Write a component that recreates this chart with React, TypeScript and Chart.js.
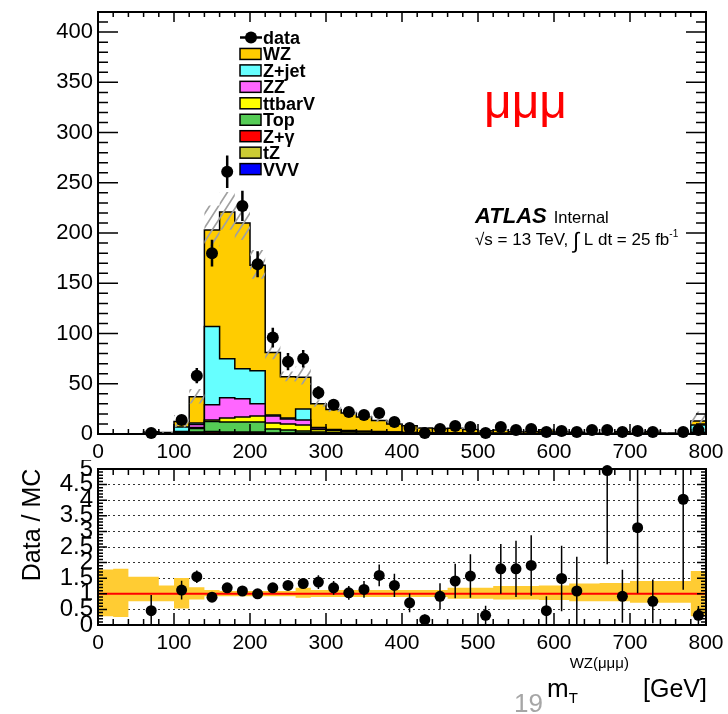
import React, { useEffect, useRef } from 'react';
import { Chart, registerables } from 'chart.js';

Chart.register(...registerables);

const FONT = '"Liberation Sans", Arial, Helvetica, sans-serif';

// ---------------- data ----------------
const X_MIN = 0;
const X_MAX = 800;

const binLow = [0, 20, 40, 60, 80, 100, 120, 140, 160, 180, 200, 220, 240, 260, 280, 300, 320, 340, 360, 380,
  400, 420, 440, 460, 480, 500, 520, 540, 560, 580, 600, 620, 640, 660, 680, 700, 720, 740, 760, 780];
const binCenter = [10, 30, 50, 70, 90, 110, 130, 150, 170, 190, 210, 230, 250, 270, 290, 310, 330, 350, 370, 390,
  410, 430, 450, 470, 490, 510, 530, 550, 570, 590, 610, 630, 650, 670, 690, 710, 730, 750, 770, 790];

// MC components (events per bin)
const VVV = [0, 0, 0, 0, 0, 0.05, 0.5, 0.5, 0.5, 0.5, 0.5, 0.3, 0.3, 0.3, 0.2, 0.2, 0.1, 0.1, 0.1, 0.1,
  0.1, 0.05, 0.05, 0.05, 0.05, 0.05, 0.05, 0.03, 0.03, 0.03, 0.03, 0.03, 0.02, 0.02, 0.02, 0.02, 0.02, 0.02, 0.01, 0.1];
const tZ = [0, 0, 0, 0, 0, 0.05, 0.5, 0.5, 0.5, 0.5, 0.5, 0.3, 0.3, 0.3, 0.2, 0.2, 0.1, 0.1, 0.1, 0.1,
  0.1, 0.05, 0.05, 0.05, 0.05, 0.05, 0.05, 0.03, 0.03, 0.03, 0.03, 0.03, 0.02, 0.02, 0.02, 0.02, 0.02, 0.02, 0.01, 0.1];
const Zgamma = [0, 0, 0, 0.1, 0, 0.3, 1, 1.5, 1, 1, 1, 0.4, 0.4, 0.4, 0.3, 0.2, 0.2, 0.1, 0.1, 0.1,
  0.1, 0.1, 0.1, 0.1, 0.05, 0.05, 0.05, 0.04, 0.04, 0.04, 0.04, 0.04, 0.02, 0.02, 0.02, 0.02, 0.02, 0.02, 0.01, 0.1];
const TopBkg = [0, 0, 0, 0.2, 0.1, 0.8, 3.5, 10, 10, 10, 10, 4, 3, 2, 1.3, 0.8, 0.6, 0.5, 0.4, 0.3,
  0.3, 0.2, 0.2, 0.2, 0.15, 0.1, 0.1, 0.1, 0.1, 0.1, 0.1, 0.1, 0.05, 0.05, 0.05, 0.05, 0.05, 0.05, 0.03, 0.3];
const ttbarV = [0, 0, 0, 0, 0, 0.3, 1, 1.5, 4, 5, 6, 6, 6, 6, 2.5, 2, 1.5, 1.2, 1, 0.8,
  0.6, 0.5, 0.4, 0.4, 0.3, 0.3, 0.3, 0.2, 0.2, 0.2, 0.15, 0.15, 0.1, 0.1, 0.1, 0.1, 0.1, 0.1, 0.05, 0.6];
const ZZ = [0, 0, 0, 0.3, 0.2, 1, 3, 15, 20, 18, 12, 7, 5, 5, 1.5, 0.8, 0.7, 0.6, 0.5, 0.4,
  0.3, 0.3, 0.2, 0.2, 0.2, 0.15, 0.15, 0.1, 0.1, 0.1, 0.1, 0.1, 0.05, 0.05, 0.05, 0.05, 0.05, 0.05, 0.04, 0.5];
const Zjet = [0, 0, 0, 0.6, 0.5, 4.5, 1.5, 78, 39, 30, 33, 1, 1, 11, 0.5, 0.3, 0.3, 0.2, 0.2, 0.2,
  0.1, 0.1, 0.1, 0.1, 0.1, 0.1, 0.1, 0.1, 0.1, 1.5, 0.05, 0.05, 0, 0, 0.5, 0, 0.8, 0, 0, 7.3];
const WZ = [0, 0, 0, 1.0, 0.7, 5.5, 26, 96, 146, 145, 105, 62, 41, 31.5, 23.5, 20, 17.5, 14.2, 11.1, 8.0,
  6.6, 4.7, 4.4, 4.6, 3.6, 2.4, 3.1, 1.6, 2.0, 2.3, 1.5, 1.3, 0.44, 0.56, 1.44, 0.74, 1.54, 0.74, 0.35, 4.0];

// data
const dataCounts = [null, null, null, 1, null, 14, 58, 180, 261, 227, 169, 96, 72, 75, 41, 29, 22, 19, 21, 12,
  6, 1, 5, 8, 7, 1, 7, 4, 5, 2, 3, 2, 4, 4, 2, 3, 2, null, 2, 4];
const dataErr = [null, null, null, 1, null, 3.7, 7.6, 13.4, 16.2, 15.1, 13, 9.8, 8.5, 8.7, 6.4, 5.4, 4.7, 4.4, 4.6, 3.5,
  2.4, 1, 2.2, 2.8, 2.6, 1, 2.6, 2, 2.2, 1.4, 1.7, 1.4, 2, 2, 1.4, 1.7, 1.4, null, 1.4, 2];

// ratio panel
const ratio = [null, null, null, 0.46, null, 1.12, 1.55, 0.89, 1.19, 1.09, 1.0, 1.19, 1.27, 1.33, 1.375, 1.19, 1.03, 1.14, 1.59, 1.27,
  0.71, 0.17, 0.92, 1.41, 1.57, 0.31, 1.80, 1.80, 1.91, 0.46, 1.49, 1.09, null, 4.95, 0.92, 3.12, 0.76, null, 4.03, 0.31];
const ratioErr = [null, null, null, 0.5, null, 0.3, 0.2, 0.07, 0.08, 0.08, 0.08, 0.12, 0.15, 0.16, 0.22, 0.22, 0.22, 0.27, 0.35, 0.37,
  0.3, 0.17, 0.42, 0.55, 0.7, 0.31, 0.8, 0.9, 0.97, 0.46, 1.05, 1.1, null, 3.0, 0.85, 2.1, 0.7, null, 2.9, 0.3];
const bandUp = [0.78, 0.80, 0.55, 0.55, 0.27, 0.51, 0.21, 0.12, 0.09, 0.09, 0.09, 0.09, 0.09, 0.19, 0.12, 0.12, 0.12, 0.12, 0.12, 0.12,
  0.12, 0.12, 0.12, 0.19, 0.19, 0.19, 0.25, 0.25, 0.25, 0.27, 0.27, 0.33, 0.33, 0.35, 0.35, 0.41, 0.41, 0.41, 0.41, 0.73];
const bandDn = [0.72, 0.74, 0.24, 0.24, 0.24, 0.47, 0.18, 0.08, 0.08, 0.08, 0.08, 0.08, 0.08, 0.13, 0.10, 0.10, 0.10, 0.10, 0.10, 0.10,
  0.10, 0.10, 0.10, 0.16, 0.16, 0.16, 0.18, 0.18, 0.18, 0.20, 0.20, 0.24, 0.24, 0.24, 0.24, 0.29, 0.29, 0.29, 0.29, 0.72];

const topYTicksMax = 420;
const ratioYMax = 5;

const legendLabels = ['data', 'WZ', 'Z+jet', 'ZZ', 'ttbarV', 'Top', 'Z+\u03b3', 'tZ', 'VVV'];
const legendColors = ['#000000', '#ffcc00', '#66ffff', '#ff66ff', '#ffff00', '#55cc55', '#ff0000', '#cccc33', '#0000ff'];

// stack from bottom to top
const stackOrder = [
  { label: 'VVV', vals: VVV, color: '#0000ff' },
  { label: 'tZ', vals: tZ, color: '#cccc33' },
  { label: 'Z+\u03b3', vals: Zgamma, color: '#ff0000' },
  { label: 'Top', vals: TopBkg, color: '#55cc55' },
  { label: 'ttbarV', vals: ttbarV, color: '#ffff00' },
  { label: 'ZZ', vals: ZZ, color: '#ff66ff' },
  { label: 'Z+jet', vals: Zjet, color: '#66ffff' },
  { label: 'WZ', vals: WZ, color: '#ffcc00' },
];

// ---------------- helpers ----------------
function steps(vals: number[]) {
  const pts: any[] = binLow.map((x, i) => ({ x, y: vals[i] }));
  pts.push({ x: X_MAX, y: vals[vals.length - 1] });
  return pts;
}

function errSegments(vals: (number | null)[], errs: (number | null)[]) {
  const pts: any[] = [];
  binCenter.forEach((x, i) => {
    const v = vals[i];
    const e = errs[i];
    if (v == null || e == null) return;
    pts.push({ x, y: v - e }, { x, y: v + e }, { x, y: null });
  });
  return pts;
}

function pointsOf(vals: (number | null)[]) {
  return binCenter.map((x, i) => ({ x, y: vals[i] }));
}

function makeHatch(): any {
  const w = 9;
  const h = 14;
  const c = document.createElement('canvas');
  c.width = w;
  c.height = h;
  const g = c.getContext('2d');
  if (!g) return 'rgba(150,150,150,0.5)';
  g.strokeStyle = '#a0a0a0';
  g.lineWidth = 1.7;
  g.beginPath();
  for (let k = -1; k <= 1; k++) {
    g.moveTo(k * w - 1, h + h / w);
    g.lineTo(k * w + w + 1, -h / w);
  }
  g.stroke();
  return g.createPattern(c, 'repeat');
}

const frameTicks = {
  id: 'frameTicks',
  afterDatasetDraw(chart: any, args: any, opts: any) {
    if (args.index !== opts.afterIndex) return;
    const { ctx, chartArea: a } = chart;
    const xs = chart.scales.x;
    const ys = chart.scales.y;
    const isMajor = (v: number, m: number) => Math.abs(v / m - Math.round(v / m)) < 1e-6;
    ctx.save();
    ctx.strokeStyle = '#000';
    ctx.lineWidth = opts.tickWidth;
    ctx.beginPath();
    const nx = Math.round((X_MAX - X_MIN) / opts.xMinor);
    for (let k = 0; k <= nx; k++) {
      const v = X_MIN + k * opts.xMinor;
      const L = isMajor(v, opts.xMajor) ? opts.xMajorLen : opts.xMinorLen;
      const p = xs.getPixelForValue(v);
      ctx.moveTo(p, a.bottom); ctx.lineTo(p, a.bottom - L);
      ctx.moveTo(p, a.top); ctx.lineTo(p, a.top + L);
    }
    const ny = Math.floor((ys.max - ys.min) / opts.yMinor + 1e-6);
    for (let k = 0; k <= ny; k++) {
      const v = ys.min + k * opts.yMinor;
      const maj = isMajor(v, opts.yMajor);
      const L = maj ? opts.yMajorLen : opts.yMinorLen;
      const Lr = maj ? opts.yMajorLenR : opts.yMinorLenR;
      const p = ys.getPixelForValue(v);
      ctx.moveTo(a.left, p); ctx.lineTo(a.left + L, p);
      ctx.moveTo(a.right, p); ctx.lineTo(a.right - Lr, p);
    }
    ctx.stroke();
    ctx.lineWidth = opts.frameWidth;
    ctx.strokeRect(a.left, a.top, a.right - a.left, a.bottom - a.top);
    ctx.restore();
  },
};

function txt(ctx: any, s: string, x: number, y: number, font: string, color = '#000', align = 'left') {
  ctx.font = font;
  ctx.fillStyle = color;
  ctx.textAlign = align;
  ctx.textBaseline = 'alphabetic';
  ctx.fillText(s, x, y);
  return ctx.measureText(s).width;
}

const topAnnot = {
  id: 'topAnnot',
  afterDraw(chart: any) {
    const ctx = chart.ctx;
    ctx.save();
    // legend
    legendLabels.forEach((lab, i) => {
      const y = 37.5 + 16.45 * i;
      if (i === 0) {
        ctx.strokeStyle = '#000';
        ctx.lineWidth = 2.5;
        ctx.beginPath();
        ctx.moveTo(240, y); ctx.lineTo(262, y);
        ctx.stroke();
        ctx.fillStyle = '#000';
        ctx.beginPath();
        ctx.arc(251, y, 6, 0, Math.PI * 2);
        ctx.fill();
      } else {
        ctx.fillStyle = legendColors[i];
        ctx.fillRect(240, y - 5.5, 21, 11);
        ctx.strokeStyle = '#000';
        ctx.lineWidth = 1.5;
        ctx.strokeRect(240, y - 5.5, 21, 11);
      }
      txt(ctx, lab, 263, y + 6.4, `bold 18px ${FONT}`);
    });
    // channel label
    txt(ctx, '\u03bc\u03bc\u03bc', 484, 118, `48px ${FONT}`, '#ff0000');
    // ATLAS label
    const w = txt(ctx, 'ATLAS', 475, 223, `italic bold 22px ${FONT}`);
    txt(ctx, 'Internal', 475 + w + 7, 223, `16.5px ${FONT}`);
    // lumi
    let x = 475;
    x += txt(ctx, '\u221As = 13 TeV, ', x, 245, `17px ${FONT}`);
    x += txt(ctx, '\u222B', x, 248, `22px ${FONT}`);
    x += txt(ctx, ' L dt = 25 fb', x, 245, `17px ${FONT}`);
    txt(ctx, '-1', x, 237, `10px ${FONT}`);
    ctx.restore();
  },
};

const ratioAnnot = {
  id: 'ratioAnnot',
  afterDraw(chart: any) {
    const ctx = chart.ctx;
    ctx.save();
    ctx.save();
    ctx.translate(33, 65);
    ctx.rotate(-Math.PI / 2);
    ctx.font = `25px ${FONT}`;
    ctx.fillStyle = '#000';
    ctx.textAlign = 'center';
    ctx.textBaseline = 'middle';
    ctx.fillText('Data / MC', 0, 0);
    ctx.restore();
    // slide number
    txt(ctx, '19', 514, 252, `26px ${FONT}`, '#a6a6a6');
    // x title
    const mw = txt(ctx, 'm', 547, 237, `26px ${FONT}`);
    txt(ctx, 'T', 547 + mw, 243, `15px ${FONT}`);
    txt(ctx, 'WZ(\u03bc\u03bc\u03bc)', 547 + mw + 1, 208, `15px ${FONT}`);
    txt(ctx, '[GeV]', 643, 237, `25px ${FONT}`);
    ctx.restore();
  },
};

function fixFit(w?: number, h?: number) {
  return (s: any) => {
    if (w !== undefined) s.width = w;
    if (h !== undefined) s.height = h;
    s.paddingTop = 0; s.paddingBottom = 0; s.paddingLeft = 0; s.paddingRight = 0;
  };
}

const plainNum = (v: any) => String(Math.round(Number(v) * 100) / 100);

export default function App() {
  const topRef = useRef<HTMLCanvasElement>(null);
  const botRef = useRef<HTMLCanvasElement>(null);

  useEffect(() => {
    if (!topRef.current || !botRef.current) return;
    const hatch = makeHatch();

    // stacked cumulative histograms
    let cum = new Array(binLow.length).fill(0);
    const stackSets = stackOrder.map((c) => {
      cum = cum.map((s: number, i: number) => s + c.vals[i]);
      return {
        label: c.label,
        data: steps(cum),
        stepped: true,
        fill: 'origin',
        backgroundColor: c.color,
        borderColor: '#000',
        borderWidth: 1.5,
        pointRadius: 0,
      };
    });
    const total = cum;
    const hatchUp = total.map((t: number, i: number) => t * (1 + bandUp[i]));
    const hatchDn = total.map((t: number, i: number) => t * (1 - bandDn[i]));

    const top = new Chart(topRef.current, {
      type: 'line',
      data: {
        datasets: [
          { label: 'data', data: pointsOf(dataCounts), showLine: false, pointRadius: 6, pointBackgroundColor: '#000', pointBorderColor: '#000', pointBorderWidth: 0, clip: false },
          { label: 'dataErr', data: errSegments(dataCounts, dataErr), borderColor: '#000', borderWidth: 2.5, pointRadius: 0, spanGaps: false },
          { label: 'hatchUp', data: steps(hatchUp), stepped: true, fill: '+1', backgroundColor: hatch, borderWidth: 0, pointRadius: 0 },
          { label: 'hatchDn', data: steps(hatchDn), stepped: true, fill: false, borderWidth: 0, pointRadius: 0 },
          ...stackSets,
        ] as any,
      },
      options: {
        animation: false,
        responsive: false,
        devicePixelRatio: 1,
        layout: { padding: { left: 0, right: 22, top: 12, bottom: 0 } },
        plugins: {
          legend: { display: false },
          tooltip: { enabled: false },
          frameTicks: {
            afterIndex: 2, tickWidth: 1.5, frameWidth: 2,
            xMajor: 100, xMinor: 20, xMajorLen: 10, xMinorLen: 5,
            yMajor: 50, yMinor: 10, yMajorLen: 20, yMinorLen: 10, yMajorLenR: 20, yMinorLenR: 10,
          },
        } as any,
        scales: {
          x: {
            type: 'linear', min: X_MIN, max: X_MAX,
            afterFit: fixFit(undefined, 26),
            grid: { display: false, drawTicks: false },
            border: { display: false },
            ticks: { stepSize: 100, autoSkip: false, maxRotation: 0, padding: 6, color: '#000', font: { family: FONT, size: 21 }, callback: plainNum },
          },
          y: {
            type: 'linear', min: 0, max: topYTicksMax,
            afterFit: fixFit(98, undefined),
            grid: { display: false, drawTicks: false },
            border: { display: false },
            ticks: { stepSize: 50, includeBounds: false, autoSkip: false, padding: 5, color: '#000', font: { family: FONT, size: 22 }, callback: plainNum },
          },
        } as any,
      },
      plugins: [frameTicks, topAnnot] as any,
    });

    const bot = new Chart(botRef.current, {
      type: 'line',
      data: {
        datasets: [
          { label: 'ratio', data: pointsOf(ratio), showLine: false, pointRadius: 5.5, pointBackgroundColor: '#000', pointBorderColor: '#000', pointBorderWidth: 0, clip: false },
          { label: 'ratioErr', data: errSegments(ratio, ratioErr), borderColor: '#000', borderWidth: 1.5, pointRadius: 0, spanGaps: false },
          { label: 'one', data: [{ x: X_MIN, y: 1 }, { x: X_MAX, y: 1 }], borderColor: '#ff0000', borderWidth: 2, pointRadius: 0 },
          { label: 'bandUp', data: steps(bandUp.map((u) => 1 + u)), stepped: true, fill: '+1', backgroundColor: '#ffcc33', borderWidth: 0, pointRadius: 0 },
          { label: 'bandDn', data: steps(bandDn.map((d) => 1 - d)), stepped: true, fill: false, borderWidth: 0, pointRadius: 0 },
        ] as any,
      },
      options: {
        animation: false,
        responsive: false,
        devicePixelRatio: 1,
        layout: { padding: { left: 0, right: 22, top: 9, bottom: 0 } },
        plugins: {
          legend: { display: false },
          tooltip: { enabled: false },
          frameTicks: {
            afterIndex: 2, tickWidth: 1.5, frameWidth: 2,
            xMajor: 100, xMinor: 20, xMajorLen: 12, xMinorLen: 6,
            yMajor: 0.5, yMinor: 0.1, yMajorLen: 9, yMinorLen: 5, yMajorLenR: 9, yMinorLenR: 5,
          },
        } as any,
        scales: {
          x: {
            type: 'linear', min: X_MIN, max: X_MAX,
            afterFit: fixFit(undefined, 89),
            grid: { display: false, drawTicks: false },
            border: { display: false },
            ticks: { stepSize: 100, autoSkip: false, maxRotation: 0, padding: 6, color: '#000', font: { family: FONT, size: 21 }, callback: plainNum },
          },
          y: {
            type: 'linear', min: 0, max: ratioYMax,
            afterFit: fixFit(98, undefined),
            grid: { display: true, drawTicks: false, color: '#333333', lineWidth: 1 },
            border: { display: false, dash: [2, 3] },
            ticks: { stepSize: 0.5, autoSkip: false, padding: 5, color: '#000', font: { family: FONT, size: 24 }, callback: plainNum },
          },
        } as any,
      },
      plugins: [frameTicks, ratioAnnot] as any,
    });

    return () => {
      top.destroy();
      bot.destroy();
    };
  }, []);

  return (
    <div style={{ position: 'fixed', left: 0, top: 0, width: 728, height: 714, background: '#fff', overflow: 'hidden' }}>
      <canvas ref={topRef} width={728} height={460} style={{ position: 'absolute', left: 0, top: 0 }} />
      <canvas ref={botRef} width={728} height={254} style={{ position: 'absolute', left: 0, top: 460 }} />
    </div>
  );
}
